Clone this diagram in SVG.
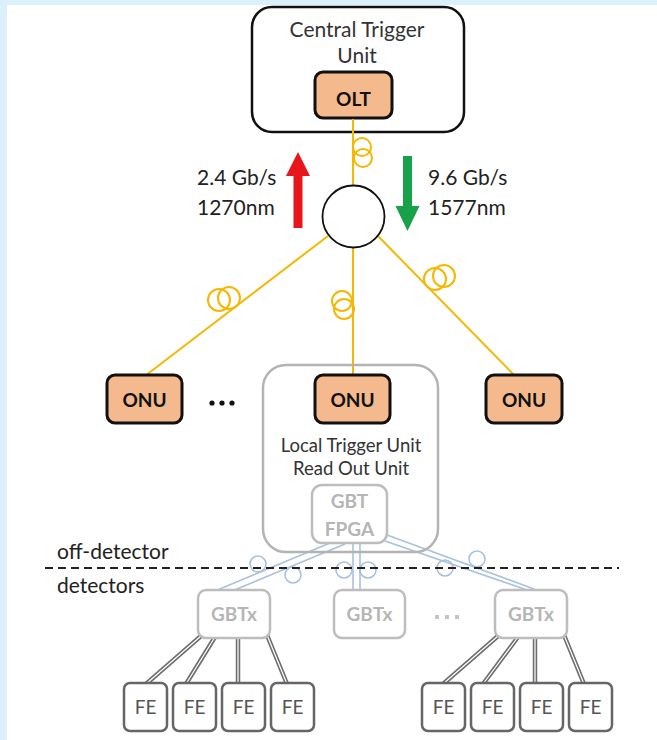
<svg xmlns="http://www.w3.org/2000/svg" width="657" height="740" viewBox="0 0 657 740">
<style>
.t{font-family:Lato,"Liberation Sans",sans-serif}
.lbl{font-size:21px;fill:#333}
.rate{font-size:21px;fill:#222}
.peach{fill:#f4b98c;stroke:#111;stroke-width:3}
.pb{font-size:19px;font-weight:bold;fill:#111}
.gray{fill:#fff;stroke:#bdbdbd;stroke-width:2.5}
.gb{font-size:19px;font-weight:bold;fill:#b5b5b5}
.fe{fill:#fff;stroke:#666;stroke-width:2.5}
.fet{font-size:19px;fill:#555}
.fib{stroke:#f5b700;stroke-width:2;fill:none}
.blue{stroke:#a9c1dc;stroke-width:1.6;fill:none}
.rib{stroke:#6f6f6f;stroke-width:4.5;fill:none}
.ribw{stroke:#fff;stroke-width:1.2;fill:none}
</style>
<rect x="0" y="0" width="657" height="740" fill="#dcf0fb"/>
<rect x="7" y="5" width="650" height="735" fill="#fff"/>

<g id="connectors">
  <line class="fib" x1="353" y1="118" x2="353" y2="186"/>
  <circle class="fib" cx="362" cy="147" r="9"/>
  <circle class="fib" cx="363" cy="158" r="9"/>
  <line class="fib" x1="328" y1="236" x2="145" y2="376"/>
  <circle class="fib" cx="219" cy="300" r="11"/>
  <circle class="fib" cx="229" cy="298" r="11"/>
  <line class="fib" x1="353" y1="248" x2="353" y2="376"/>
  <circle class="fib" cx="342" cy="301" r="10"/>
  <circle class="fib" cx="344" cy="309" r="10"/>
  <line class="fib" x1="378" y1="236" x2="515" y2="376"/>
  <circle class="fib" cx="435" cy="279" r="11"/>
  <circle class="fib" cx="444" cy="276" r="11"/>
  <line class="blue" x1="330" y1="543" x2="215" y2="591"/>
  <line class="blue" x1="345" y1="544" x2="232" y2="591"/>
  <circle class="blue" cx="258" cy="564" r="8"/>
  <circle class="blue" cx="293" cy="575" r="8"/>
  <line class="blue" x1="353" y1="543" x2="353" y2="590"/>
  <line class="blue" x1="360" y1="543" x2="360" y2="590"/>
  <circle class="blue" cx="344" cy="570" r="8"/>
  <circle class="blue" cx="368" cy="570" r="8"/>
  <line class="blue" x1="387" y1="535" x2="534" y2="589"/>
  <line class="blue" x1="385" y1="541" x2="527" y2="590"/>
  <circle class="blue" cx="477" cy="559" r="8"/>
  <circle class="blue" cx="445" cy="568" r="8"/>
  <g>
    <path class="rib" d="M201 636L146 684M215 637L186 684M238 638L238 684M267 635L287 684M498 636L443 684M518 637L483 684M535 638L535 684M564 635L584 684"/>
    <path class="ribw" d="M201 636L146 684M215 637L186 684M238 638L238 684M267 635L287 684M498 636L443 684M518 637L483 684M535 638L535 684M564 635L584 684"/>
  </g>
</g>

<g id="central-trigger-unit">
  <rect x="252" y="7" width="212" height="125" rx="20" fill="#fff" stroke="#111" stroke-width="2.5"/>
  <text class="t lbl" x="357" y="37" text-anchor="middle">Central Trigger</text>
  <text class="t lbl" x="357" y="63" text-anchor="middle">Unit</text>
</g>
<g id="olt">
  <rect class="peach" x="315" y="72" width="77" height="46" rx="8"/>
  <text class="t pb" x="353.5" y="106" text-anchor="middle">OLT</text>
</g>
<line class="fib" x1="353" y1="119" x2="353" y2="134"/>

<g id="splitter">
  <circle cx="353.5" cy="216.5" r="31" fill="#fff" stroke="#111" stroke-width="1.8"/>
</g>

<g id="upstream">
  <polygon points="298,152 310,176 302.5,176 302.5,228 293.5,228 293.5,176 286,176" fill="#e8161c"/>
  <text class="t rate" x="197" y="185">2.4 Gb/s</text>
  <text class="t rate" x="197" y="215">1270nm</text>
</g>
<g id="downstream">
  <polygon points="403,156 412,156 412,206 419.5,206 407.5,231 395.5,206 403,206" fill="#17a24a"/>
  <text class="t rate" x="428" y="185">9.6 Gb/s</text>
  <text class="t rate" x="428" y="215">1577nm</text>
</g>

<g id="onu-left">
  <rect class="peach" x="107" y="375" width="75" height="48" rx="8"/>
  <text class="t pb" x="144.5" y="407" text-anchor="middle" font-size="20">ONU</text>
</g>
<g id="dots-onu">
  <circle cx="212" cy="403" r="2.6" fill="#111"/>
  <circle cx="222" cy="403" r="2.6" fill="#111"/>
  <circle cx="232" cy="403" r="2.6" fill="#111"/>
</g>
<g id="local-trigger-unit">
  <rect x="263" y="365" width="175" height="187" rx="23" fill="none" stroke="#b3b3b3" stroke-width="2.5"/>
  <text class="t" x="351" y="452" text-anchor="middle" font-size="18.5" fill="#333">Local Trigger Unit</text>
  <text class="t" x="351" y="475" text-anchor="middle" font-size="18.5" fill="#333">Read Out Unit</text>
</g>
<g id="onu-middle">
  <rect class="peach" x="315" y="375" width="75" height="48" rx="8"/>
  <text class="t pb" x="352.5" y="407" text-anchor="middle" font-size="20">ONU</text>
</g>
<g id="onu-right">
  <rect class="peach" x="486" y="375" width="76" height="48" rx="8"/>
  <text class="t pb" x="524" y="407" text-anchor="middle" font-size="20">ONU</text>
</g>
<g id="gbt-fpga">
  <rect class="gray" x="312" y="485" width="75" height="58" rx="10"/>
  <text class="t gb" x="349.5" y="508" text-anchor="middle">GBT</text>
  <text class="t gb" x="349.5" y="536" text-anchor="middle">FPGA</text>
</g>

<g id="boundary">
  <line x1="45" y1="568" x2="619" y2="568" stroke="#222" stroke-width="2" stroke-dasharray="8,5"/>
  <text class="t" x="57" y="559" font-size="21" fill="#222">off-detector</text>
  <text class="t" x="57" y="593" font-size="21" fill="#222">detectors</text>
</g>

<g id="gbtx-left">
  <rect class="gray" x="198" y="590" width="72" height="48" rx="8"/>
  <text class="t gb" x="234" y="621" text-anchor="middle" font-size="20">GBTx</text>
</g>
<g id="gbtx-middle">
  <rect class="gray" x="334" y="590" width="71" height="48" rx="8"/>
  <text class="t gb" x="369.5" y="621" text-anchor="middle" font-size="20">GBTx</text>
</g>
<g id="dots-gbtx">
  <rect x="435" y="615" width="4" height="4" fill="#c4c4c4"/>
  <rect x="445" y="615" width="4" height="4" fill="#c4c4c4"/>
  <rect x="455" y="615" width="4" height="4" fill="#c4c4c4"/>
</g>
<g id="gbtx-right">
  <rect class="gray" x="495" y="590" width="72" height="48" rx="8"/>
  <text class="t gb" x="531" y="621" text-anchor="middle" font-size="20">GBTx</text>
</g>

<g id="fe-l1"><rect class="fe" x="124" y="683" width="43" height="48" rx="6"/><text class="t fet" x="145.5" y="714" text-anchor="middle">FE</text></g>
<g id="fe-l2"><rect class="fe" x="173" y="683" width="43" height="48" rx="6"/><text class="t fet" x="194.5" y="714" text-anchor="middle">FE</text></g>
<g id="fe-l3"><rect class="fe" x="222" y="683" width="43" height="48" rx="6"/><text class="t fet" x="243.5" y="714" text-anchor="middle">FE</text></g>
<g id="fe-l4"><rect class="fe" x="271" y="683" width="43" height="48" rx="6"/><text class="t fet" x="292.5" y="714" text-anchor="middle">FE</text></g>
<g id="fe-r1"><rect class="fe" x="422" y="683" width="43" height="48" rx="6"/><text class="t fet" x="443.5" y="714" text-anchor="middle">FE</text></g>
<g id="fe-r2"><rect class="fe" x="471" y="683" width="43" height="48" rx="6"/><text class="t fet" x="492.5" y="714" text-anchor="middle">FE</text></g>
<g id="fe-r3"><rect class="fe" x="520" y="683" width="43" height="48" rx="6"/><text class="t fet" x="541.5" y="714" text-anchor="middle">FE</text></g>
<g id="fe-r4"><rect class="fe" x="569" y="683" width="43" height="48" rx="6"/><text class="t fet" x="590.5" y="714" text-anchor="middle">FE</text></g>
</svg>
